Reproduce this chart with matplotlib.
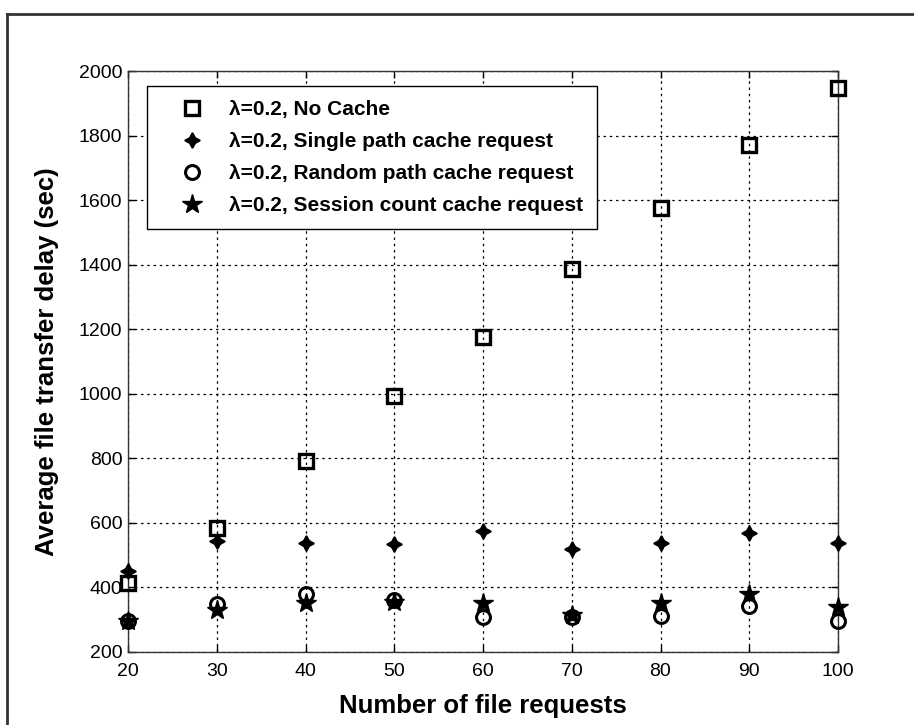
import matplotlib
matplotlib.use("Agg")
import matplotlib.pyplot as plt
from matplotlib.lines import Line2D
from matplotlib import font_manager
import numpy as np

plt.rcParams['font.family'] = ['Liberation Sans', 'DejaVu Sans']

names = {f.name for f in font_manager.fontManager.ttflist}
tick_family = ['Liberation Sans Narrow'] if 'Liberation Sans Narrow' in names else ['Liberation Sans']
tick_size = 16 if 'Liberation Sans Narrow' in names else 14

requests = [20, 30, 40, 50, 60, 70, 80, 90, 100]
no_cache = [415, 583, 793, 993, 1176, 1386, 1575, 1770, 1946]
single_path = [452, 544, 539, 535, 576, 518, 539, 568, 537]
random_path = [296, 350, 379, 360, 308, 308, 311, 341, 296]
session_count = [296, 329, 353, 355, 353, 315, 353, 379, 340]

labels = ["λ=0.2, No Cache",
          "λ=0.2, Single path cache request",
          "λ=0.2, Random path cache request",
          "λ=0.2, Session count cache request"]
xticks = [20, 30, 40, 50, 60, 70, 80, 90, 100]
yticks = [200, 400, 600, 800, 1000, 1200, 1400, 1600, 1800, 2000]

fig = plt.figure(figsize=(9.14, 7.25), dpi=100)
ax = fig.add_axes([128/914, 1-652/725, (838-128)/914, (652-71)/725])

ax.plot(requests, no_cache, linestyle='none', marker='s', markersize=10.5,
        markerfacecolor='none', markeredgecolor='black', markeredgewidth=2.4,
        label=labels[0], clip_on=False, zorder=3)
ax.plot(requests, single_path, linestyle='none', marker=(4, 1, 0), markersize=11,
        markerfacecolor='black', markeredgecolor='black', markeredgewidth=1.2,
        label=labels[1], clip_on=False, zorder=3)
ax.plot(requests, random_path, linestyle='none', marker='o', markersize=10,
        markerfacecolor='none', markeredgecolor='black', markeredgewidth=2.2,
        label=labels[2], clip_on=False, zorder=3)
ax.plot(requests, session_count, linestyle='none', marker='*', markersize=15,
        markerfacecolor='black', markeredgecolor='black', markeredgewidth=1.0,
        label=labels[3], clip_on=False, zorder=3)

ax.set_xlim(20, 100)
ax.set_ylim(200, 2000)
ax.set_xticks(xticks)
ax.set_yticks(yticks)
ax.tick_params(direction='in', length=5, width=1, top=True, right=True)
ax.tick_params(axis='x', pad=8)
ax.tick_params(axis='y', pad=4)
for lab in ax.get_xticklabels() + ax.get_yticklabels():
    lab.set_family(tick_family)
    lab.set_fontsize(tick_size)
ax.grid(True, linestyle=(0, (2, 3)), color='black', linewidth=0.9)
for sp in ax.spines.values():
    sp.set_linewidth(1.0)
    sp.set_color('#333333')

ax.set_xlabel("Number of file requests", fontsize=18.5, fontweight='bold', labelpad=10)
ax.set_ylabel("Average file transfer delay (sec)", fontsize=18.5, fontweight='bold', labelpad=14)

leg = ax.legend(loc='upper left', bbox_to_anchor=((147-128)/710, 1-(86-71)/581),
                prop={'weight': 'bold', 'size': 15}, frameon=True, fancybox=False,
                edgecolor='black', framealpha=1, borderpad=0.68, labelspacing=0.62,
                handlelength=3.0, handletextpad=0.25, borderaxespad=0)
leg.get_frame().set_linewidth(1.0)

fig.add_artist(Line2D([7/914, 7/914], [0, 1-14/725], color='#333333', linewidth=2,
                      transform=fig.transFigure))
fig.add_artist(Line2D([7/914, 1], [1-14/725, 1-14/725], color='#333333', linewidth=2,
                      transform=fig.transFigure))

fig.savefig("out.png", dpi=100)
